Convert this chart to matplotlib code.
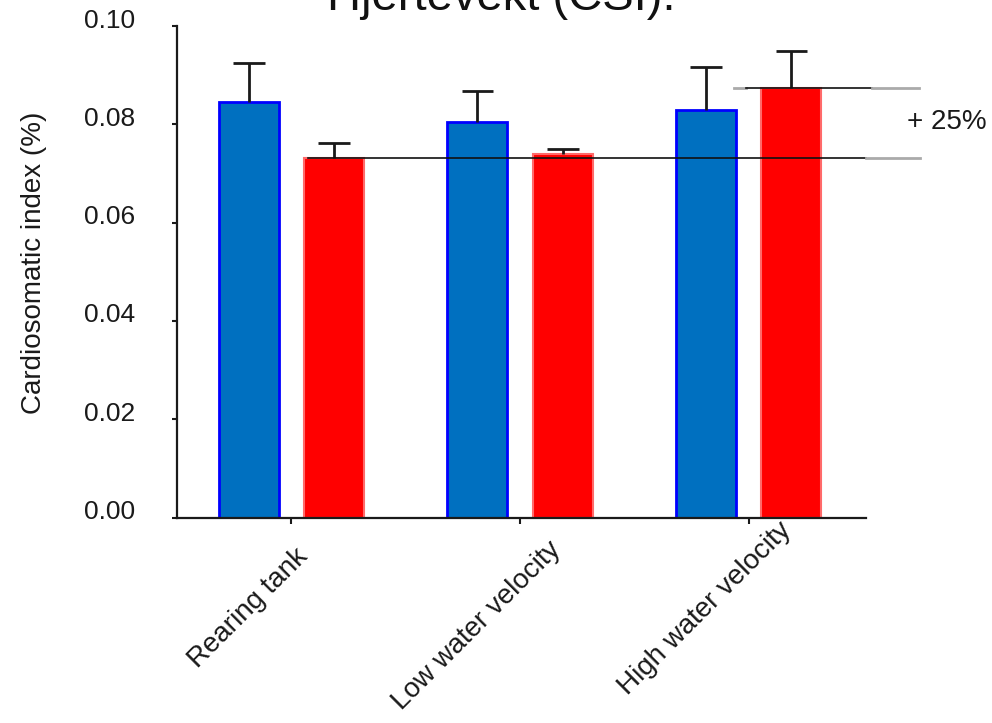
import matplotlib
matplotlib.use("Agg")
import matplotlib.pyplot as plt
import matplotlib.transforms as mtransforms
import numpy as np

plt.rcParams['font.family'] = ['Liberation Sans', 'DejaVu Sans']

# Cardiosomatic index per rearing condition (mean and upper SEM)
groups = ["Rearing tank", "Low water velocity", "High water velocity"]
blue_mean = [0.0846, 0.0805, 0.0829]
blue_sem = [0.0079, 0.0063, 0.0088]
red_mean = [0.0731, 0.0740, 0.0874]
red_sem = [0.0031, 0.0010, 0.0075]
yticks = [0.00, 0.02, 0.04, 0.06, 0.08, 0.10]
ytick_labels = ["0.00", "0.02", "0.04", "0.06", "0.08", "0.10"]
title = "Hjertevekt (CSI):"
ylabel = "Cardiosomatic index (%)"
change_label = "+ 25%"

W, H = 992, 723
fig = plt.figure(figsize=(W / 100, H / 100), dpi=100)
ax_left, ax_right, ax_top, ax_bottom = 177, 866, 26, 517.5
ax = fig.add_axes([ax_left / W, 1 - ax_bottom / H,
                   (ax_right - ax_left) / W, (ax_bottom - ax_top) / H])

x = np.arange(len(groups))
off = 0.187
width = 0.262
cap = 0.069

blue_x = x - off
red_x = x + off
ax.bar(blue_x, blue_mean, width, color='#0070C0', edgecolor='#0000FF',
       linewidth=2, zorder=2)
ax.bar(red_x, red_mean, width, color='#FF0000', edgecolor='#FF6A6A',
       linewidth=1.5, zorder=2)

# one-sided error bars (upper only)
for xs, m, e in ((blue_x, blue_mean, blue_sem), (red_x, red_mean, red_sem)):
    m = np.asarray(m)
    top = m + np.asarray(e)
    ax.vlines(xs, m, top, color='#1a1a1a', linewidth=2.0, zorder=3)
    ax.hlines(top, xs - cap, xs + cap, color='#1a1a1a', linewidth=2.0, zorder=3)

# reference lines at the red rearing-tank and red high-velocity levels
base = red_mean[0]
high = red_mean[2]
ax.plot([red_x[0] - width / 2 + 0.015, 2.514], [base, base], color='#111111',
        linewidth=1.2, clip_on=False, zorder=4)
ax.plot([2.514, 2.75], [base, base], color='#aaaaaa', linewidth=2.0,
        clip_on=False, zorder=4)
ax.plot([1.937, 1.99], [high, high], color='#aaaaaa', linewidth=2.0,
        clip_on=False, zorder=4)
ax.plot([1.99, 2.54], [high, high], color='#111111', linewidth=1.2,
        clip_on=False, zorder=4)
ax.plot([2.54, 2.745], [high, high], color='#aaaaaa', linewidth=2.0,
        clip_on=False, zorder=4)

ax.text(1.0595, 0.8047, change_label, transform=ax.transAxes, ha='left',
        va='center', fontsize=20, color='#1a1a1a')

ax.set_xlim(-0.501, 2.514)
ax.set_ylim(0, 0.10)

for side in ('top', 'right'):
    ax.spines[side].set_visible(False)
for side in ('left', 'bottom'):
    ax.spines[side].set_linewidth(1.6)
    ax.spines[side].set_color('#1a1a1a')

ax.set_yticks(yticks)
ax.set_yticklabels(ytick_labels, fontsize=19, color='#1a1a1a')
ax.tick_params(axis='y', direction='out', length=3.6, width=1.5, pad=26.6,
               color='#1a1a1a')
ax.set_xticks(x)
ax.set_xticklabels(groups, fontsize=20, color='#1a1a1a', rotation=45,
                   ha='center', va='center', rotation_mode='anchor')
ax.tick_params(axis='x', direction='out', length=4.3, width=1.5, pad=0,
               color='#1a1a1a')

ylab_shift = mtransforms.ScaledTranslation(0, 8 / 100, fig.dpi_scale_trans)
for lab in ax.get_yticklabels():
    lab.set_transform(lab.get_transform() + ylab_shift)
# rotated category labels, centred below-left of each tick
xlab_offsets = [(-43, -85), (-43, -102), (-43, -85)]
for lab, (dx, dy) in zip(ax.get_xticklabels(), xlab_offsets):
    shift = mtransforms.ScaledTranslation(dx / 100, dy / 100, fig.dpi_scale_trans)
    lab.set_transform(lab.get_transform() + shift)

ax.set_ylabel(ylabel, fontsize=20, color='#1a1a1a')
ax.yaxis.set_label_coords((34 - ax_left) / (ax_right - ax_left),
                          (ax_bottom - 263) / (ax_bottom - ax_top))
ax.yaxis.label.set_va('center')

fig.text(0.505, 1 - 10 / H, title, ha='center', va='baseline', fontsize=34,
         color='#111111')

fig.savefig("out.png", dpi=100)
